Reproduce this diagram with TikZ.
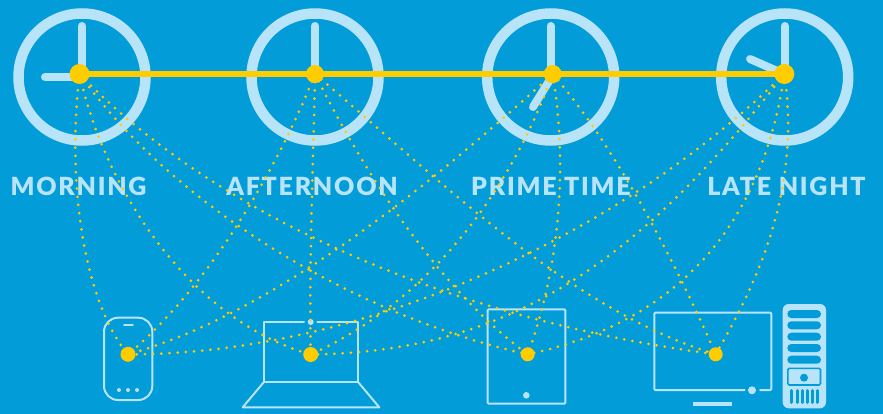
\documentclass[tikz,border=0pt]{standalone}
\usepackage{fontspec}
\setmainfont{Lato}[LetterSpace=7,BoldFont={Lato Black}]
\definecolor{bgblue}{HTML}{029CD9}
\definecolor{pale}{HTML}{B8E4FA}
\definecolor{gold}{HTML}{FFCC00}
\tikzset{
  clockring/.style={circle,draw=pale,line width=10.5pt,minimum size=127pt,inner sep=0pt},
  hand/.style={draw=pale,line width=8pt,line cap=round},
  slot/.style={circle,fill=gold,inner sep=0pt},
  caption/.style={text=pale,font=\fontsize{25}{25}\selectfont\bfseries,inner sep=0pt,anchor=center},
  link/.style={draw=gold,line width=3pt,line cap=round,dash pattern=on 0pt off 8.2pt},
  outline/.style={draw=pale,line width=2pt,line join=round,line cap=round},
  palefill/.style={fill=pale,draw=none},
  cutfill/.style={fill=bgblue,draw=none}
}
\begin{document}
\begin{tikzpicture}[x=1pt,y=-1pt]
\useasboundingbox (0,0) rectangle (883,414);
\fill[bgblue] (0,0) rectangle (883,414);
% clocks
\node[clockring] (c1) at (82,77) {};
\node[clockring] (c2) at (315,77) {};
\node[clockring] (c3) at (550.7,77) {};
\node[clockring] (c4) at (784.7,77) {};
\coordinate (h1a) at (82,26); \coordinate (h1b) at (45,77);
\coordinate (h2a) at (315,26);
\coordinate (h3a) at (550.7,26); \coordinate (h3b) at (533,107);
\coordinate (h4a) at (784.7,26); \coordinate (h4b) at (750,59);
% captions
\node[caption] (morning) at (78.5,186) {MORNING};
\node[caption] (afternoon) at (312,186) {AFTERNOON};
\node[caption] (prime) at (551,186) {PRIME TIME};
\node[caption] (late) at (786.5,186) {LATE NIGHT};
% devices
\draw[outline,rounded corners=14pt] (104,317.7) rectangle (152.3,400);
\draw[outline,line width=1.6pt] (124,324.7) -- (133,324.7);
\foreach \n/\x in {a/119,b/128,c/137}{\node[circle,palefill,minimum size=4pt,inner sep=0pt] (pd\n) at (\x,390) {};}
\draw[outline] (304,322) -- (263.7,322) -- (263.7,382.3) -- (358.3,382.3) -- (358.3,322) -- (317.3,322);
\draw[outline] (263.7,382.3) -- (242.7,407.3) -- (379.3,407.3) -- (358.3,382.3);
\node[circle,palefill,minimum size=6pt,inner sep=0pt] (cam) at (310.7,322) {};
\draw[outline,rounded corners=1pt] (487.7,309.3) rectangle (565.3,403.7);
\node[circle,palefill,minimum size=6.6pt,inner sep=0pt] (btn) at (526.3,395.3) {};
\draw[outline,rounded corners=1pt] (744.7,390) -- (654.3,390) -- (654.3,312.7) -- (771.3,312.7) -- (771.3,390) -- (760,390);
\node[circle,palefill,minimum size=8pt,inner sep=0pt] (pw) at (752,390.3) {};
\fill[pale] (692.7,402) rectangle (732.3,405.7);
% tower
\fill[pale,rounded corners=6pt] (782.7,304) rectangle (826,408.3);
\foreach \y in {314,325.3,336.7,348,359.7}{\fill[bgblue,rounded corners=4pt] (787.3,\y-4) rectangle (821,\y+4);}
\draw[bgblue,line width=1.6pt,rounded corners=1.5pt] (787.8,368.3) rectangle (820.5,385);
\node[circle,cutfill,minimum size=8pt,inner sep=0pt] (drive) at (804,377.7) {};
\foreach \x in {791.7,797,802.3,807.3,812.3,817.3}{\draw[bgblue,line width=3pt,line cap=round] (\x,390.5) -- (\x,402.5);}
% hands
\draw[hand] (82,74) -- (h1a); \draw[hand] (80,77) -- (h1b);
\draw[hand] (315,74) -- (h2a);
\draw[hand] (550.7,74) -- (h3a); \draw[hand] (551,78) -- (h3b);
\draw[hand] (784.7,74) -- (h4a); \draw[hand] (784,74) -- (h4b);
% dots
\node[slot,minimum size=20pt] (t1) at (79.5,74) {};
\node[slot,minimum size=18pt] (t2) at (315,74) {};
\node[slot,minimum size=18pt] (t3) at (552.7,74) {};
\node[slot,minimum size=20pt] (t4) at (784.3,74) {};
\node[slot,minimum size=15pt] (b1) at (128,354.3) {};
\node[slot,minimum size=15pt] (b2) at (310.7,354.5) {};
\node[slot,minimum size=14pt] (b3) at (527.7,354.3) {};
\node[slot,minimum size=14pt] (b4) at (715.7,354.3) {};
\draw[gold,line width=6pt] (t1.center) -- (t2.center) -- (t3.center) -- (t4.center);
% links
\draw[link] (t1.center) .. controls (65,200) and (90,310) .. (b1.center);
\draw[link] (t1.center) .. controls (105,190) and (190,320) .. (b2.center);
\draw[link] (t1.center) .. controls (180,215) and (370,320) .. (b3.center);
\draw[link] (t1.center) .. controls (210,210) and (440,318) .. (b4.center);
\draw[link] (t2.center) .. controls (275,175) and (205,290) .. (b1.center);
\draw[link] (t2.center) .. controls (313,170) and (309,270) .. (b2.center);
\draw[link] (t2.center) .. controls (365,175) and (440,290) .. (b3.center);
\draw[link] (t2.center) .. controls (440,180) and (570,310) .. (b4.center);
\draw[link] (t3.center) .. controls (425,190) and (270,315) .. (b1.center);
\draw[link] (t3.center) .. controls (505,205) and (420,305) .. (b2.center);
\draw[link] (t3.center) .. controls (570,180) and (555,280) .. (b3.center);
\draw[link] (t3.center) .. controls (610,140) and (670,250) .. (b4.center);
\draw[link] (t4.center) .. controls (610,245) and (350,355) .. (b1.center);
\draw[link] (t4.center) .. controls (632,272) and (500,352) .. (b2.center);
\draw[link] (t4.center) .. controls (765,210) and (690,320) .. (b3.center);
\draw[link] (t4.center) .. controls (800,180) and (765,270) .. (b4.center);
\end{tikzpicture}
\end{document}
